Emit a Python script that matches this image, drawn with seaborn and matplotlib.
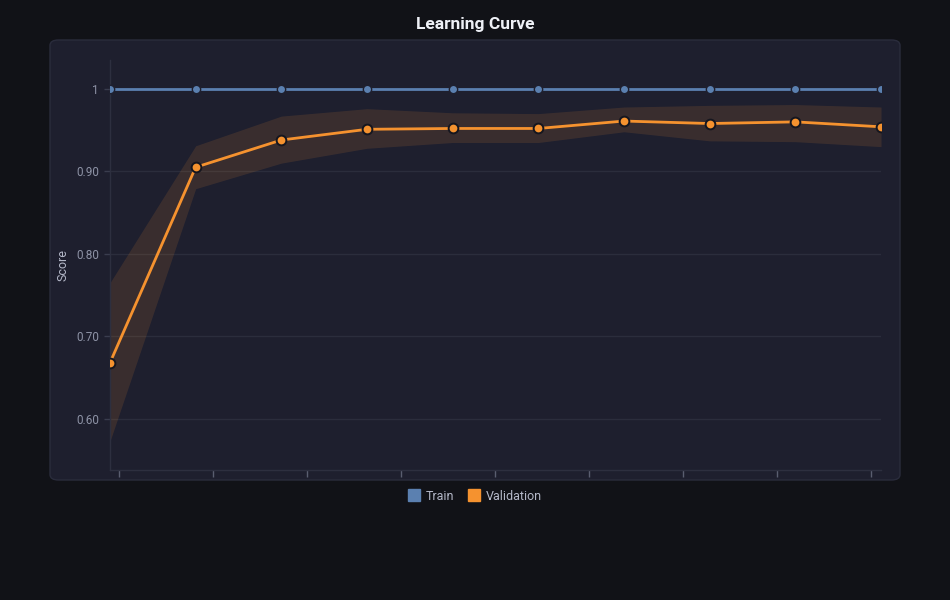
"""Learning curve: train vs validation score with validation spread band"""
import matplotlib
matplotlib.use('Agg')
import matplotlib.pyplot as plt
from matplotlib.patches import FancyBboxPatch
from matplotlib.lines import Line2D
import numpy as np
import pandas as pd
import seaborn as sns

# ~~~~~~~  Data  ~~~~~~~
steps = list(range(10))  # evenly spaced training sizes
train_score = [1.0, 1.0, 1.0, 1.0, 1.0, 1.0, 1.0, 1.0, 1.0, 1.0]
val_score = [0.668, 0.905, 0.938, 0.951, 0.952, 0.952, 0.961, 0.958, 0.960, 0.954]
val_upper = [0.765, 0.931, 0.967, 0.976, 0.971, 0.970, 0.978, 0.980, 0.981, 0.978]
val_lower = [0.573, 0.879, 0.910, 0.928, 0.935, 0.935, 0.948, 0.937, 0.936, 0.930]
y_ticks = [0.6, 0.7, 0.8, 0.9, 1.0]
y_tick_labels = ['0.60', '0.70', '0.80', '0.90', '1']

# ~~~~~~~  Colours  ~~~~~~~
BG = '#111217'
PANEL = '#1e1f2e'
GRID = '#2b2d3c'
BLUE = '#5b80b0'
ORANGE = '#f5922f'
TEXT = '#8e93a6'

sns.set_style('dark')
plt.rcParams['font.family'] = ['Roboto', 'DejaVu Sans']

fig = plt.figure(figsize=(9.5, 6), dpi=100, facecolor=BG)

# rounded panel behind the plot
panel = FancyBboxPatch((50 / 950, 120 / 600), 850 / 950, 440 / 600,
                       boxstyle='round,pad=0,rounding_size=0.009',
                       transform=fig.transFigure, facecolor=PANEL,
                       edgecolor='#2a2c3c', linewidth=1, zorder=-10)
fig.patches.append(panel)

ax = fig.add_axes([110 / 950, 130 / 600, 771 / 950, 410 / 600])
ax.set_zorder(1)
ax.set_facecolor(PANEL)
ax.patch.set_alpha(0)

df = pd.DataFrame({'step': steps, 'train': train_score, 'val': val_score})

# validation spread
ax.fill_between(steps, val_lower, val_upper, color=ORANGE, alpha=0.13,
                linewidth=0, zorder=1)

sns.lineplot(data=df, x='step', y='train', ax=ax, color=BLUE, linewidth=2.0,
             marker='o', markersize=6, markeredgecolor=PANEL,
             markeredgewidth=1.0, zorder=3)
sns.lineplot(data=df, x='step', y='val', ax=ax, color=ORANGE, linewidth=2.0,
             marker='o', markersize=7, markeredgecolor='#15161f',
             markeredgewidth=1.4, zorder=4)

ax.set_xlim(0, 9)
ax.set_ylim(0.538, 1.035)
ax.set_yticks(y_ticks)
ax.set_yticklabels(y_tick_labels)
ax.set_xticks(np.linspace(0.105, 8.88, 9))
ax.set_xticklabels([])

ax.grid(axis='y', color=GRID, linewidth=1)
ax.grid(axis='x', visible=False)
ax.tick_params(axis='y', colors='#3a3d4e', labelcolor=TEXT, labelsize=8.5,
               length=4, width=1, direction='out', left=True, pad=4)
ax.tick_params(axis='x', colors='#5a5e70', length=5, width=1,
               direction='out', bottom=True, pad=2)

for side in ['top', 'right']:
    ax.spines[side].set_visible(False)
for side in ['left', 'bottom']:
    ax.spines[side].set_visible(True)
    ax.spines[side].set_color('#2d2f3f')
    ax.spines[side].set_linewidth(1)

ax.set_xlabel('')
ax.set_ylabel('Score', color='#b4b8c8', fontsize=9, labelpad=5)

fig.text(0.5, 1 - 25 / 600, 'Learning Curve', ha='center', va='center',
         color='#eef0f6', fontsize=12.5, fontweight='bold')

handles = [
    Line2D([], [], marker='s', linestyle='', markersize=8.5, color=BLUE,
           markeredgecolor=BLUE),
    Line2D([], [], marker='s', linestyle='', markersize=8.5, color=ORANGE,
           markeredgecolor=ORANGE),
]
leg = fig.legend(handles, ['Train', 'Validation'], loc='center',
                 bbox_to_anchor=(475 / 950, 1 - 496 / 600), ncol=2,
                 frameon=False, fontsize=9, handletextpad=0.45,
                 columnspacing=1.1, handlelength=1.0)
for t in leg.get_texts():
    t.set_color('#b4b8c8')

fig.savefig('out.png', dpi=100, facecolor=BG)
